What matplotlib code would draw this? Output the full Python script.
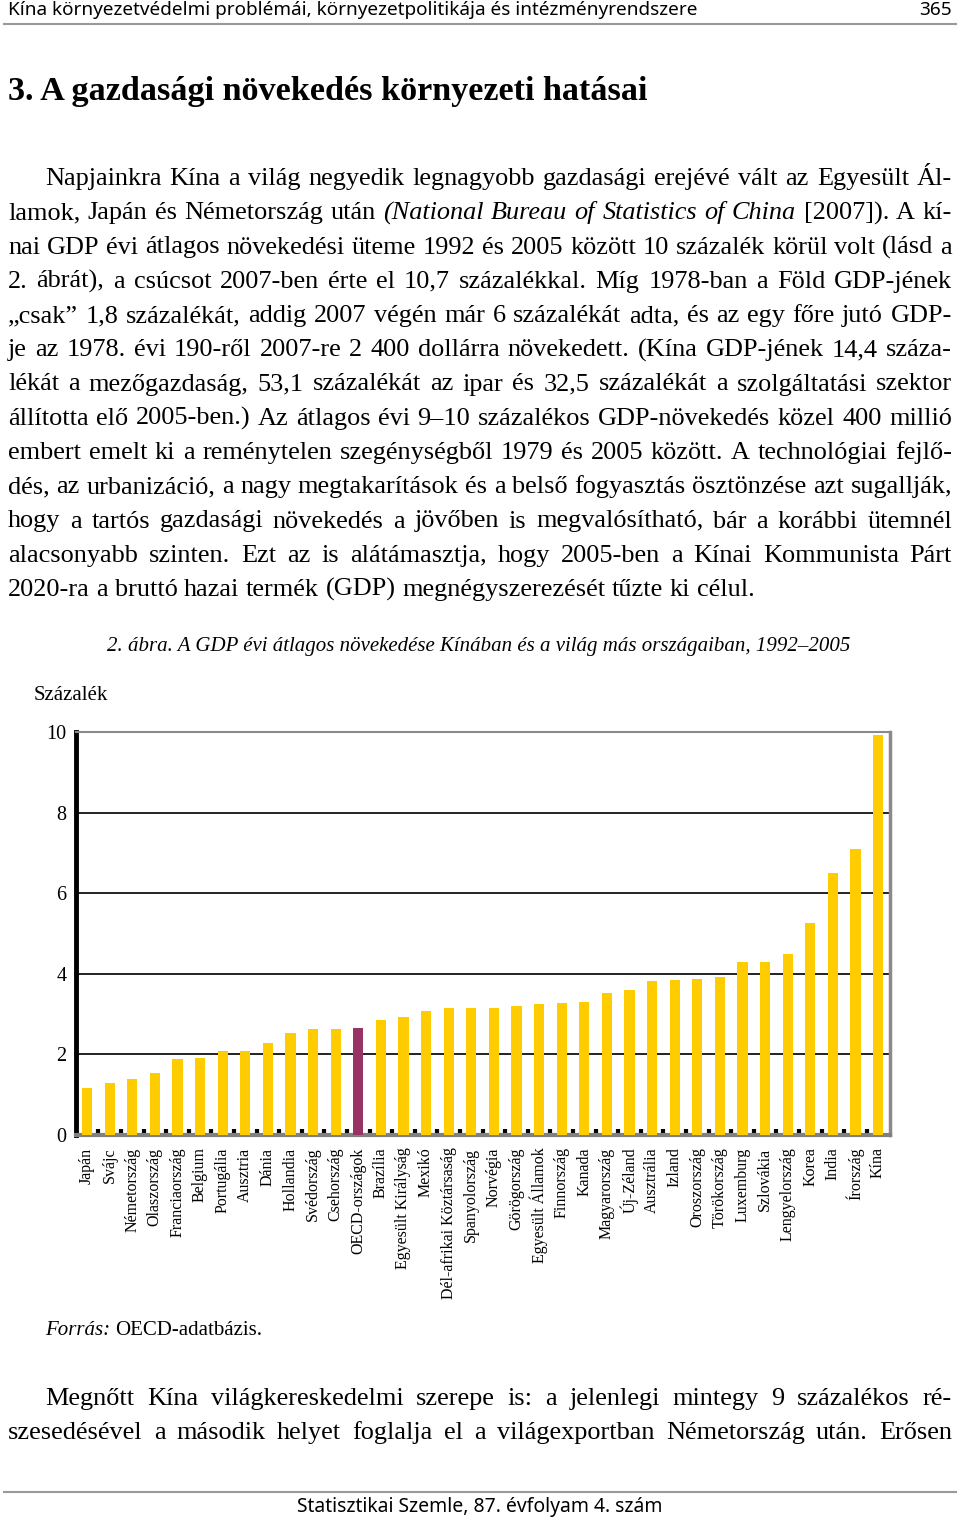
import matplotlib
matplotlib.use("Agg")
import matplotlib.pyplot as plt
import numpy as np

# chart data (percent)
countries = ["Japán", "Svájc", "Németország", "Olaszország", "Franciaország", "Belgium",
             "Portugália", "Ausztria", "Dánia", "Hollandia", "Svédország", "Csehország",
             "OECD-országok", "Brazília", "Egyesült Királyság", "Mexikó",
             "Dél-afrikai Köztársaság", "Spanyolország", "Norvégia", "Görögország",
             "Egyesült Államok", "Finnország", "Kanada", "Magyarország", "Új-Zéland",
             "Ausztrália", "Izland", "Oroszország", "Törökország", "Luxemburg",
             "Szlovákia", "Lengyelország", "Korea", "India", "Írország", "Kína"]
growth = [1.16, 1.28, 1.39, 1.53, 1.88, 1.91, 2.08, 2.08, 2.29, 2.54, 2.62, 2.62,
          2.65, 2.86, 2.93, 3.08, 3.14, 3.14, 3.14, 3.21, 3.24, 3.28, 3.31, 3.53,
          3.59, 3.81, 3.84, 3.87, 3.91, 4.30, 4.30, 4.50, 5.25, 6.49, 7.09, 9.92]
highlight = "OECD-országok"
yticks = [0, 2, 4, 6, 8, 10]

header = "Kína környezetvédelmi problémái, környezetpolitikája és intézményrendszere"
page_no = "365"
heading = "3. A gazdasági növekedés környezeti hatásai"
# words starting with _ are italic
para1 = [
    "Napjainkra Kína a világ negyedik legnagyobb gazdasági erejévé vált az Egyesült Ál-",
    "lamok, Japán és Németország után _(National _Bureau _of _Statistics _of _China [2007]). A kí-",
    "nai GDP évi átlagos növekedési üteme 1992 és 2005 között 10 százalék körül volt (lásd a",
    "2. ábrát), a csúcsot 2007-ben érte el 10,7 százalékkal. Míg 1978-ban a Föld GDP-jének",
    "„csak” 1,8 százalékát, addig 2007 végén már 6 százalékát adta, és az egy főre jutó GDP-",
    "je az 1978. évi 190-ről 2007-re 2 400 dollárra növekedett. (Kína GDP-jének 14,4 száza-",
    "lékát a mezőgazdaság, 53,1 százalékát az ipar és 32,5 százalékát a szolgáltatási szektor",
    "állította elő 2005-ben.) Az átlagos évi 9–10 százalékos GDP-növekedés közel 400 millió",
    "embert emelt ki a reménytelen szegénységből 1979 és 2005 között. A technológiai fejlő-",
    "dés, az urbanizáció, a nagy megtakarítások és a belső fogyasztás ösztönzése azt sugallják,",
    "hogy a tartós gazdasági növekedés a jövőben is megvalósítható, bár a korábbi ütemnél",
    "alacsonyabb szinten. Ezt az is alátámasztja, hogy 2005-ben a Kínai Kommunista Párt",
    "2020-ra a bruttó hazai termék (GDP) megnégyszerezését tűzte ki célul.",
]
caption = "2. ábra. A GDP évi átlagos növekedése Kínában és a világ más országaiban, 1992–2005"
ylabel = "Százalék"
source = ["_Forrás:", "OECD-adatbázis."]
para2 = [
    "Megnőtt Kína világkereskedelmi szerepe is: a jelenlegi mintegy 9 százalékos ré-",
    "szesedésével a második helyet foglalja el a világexportban Németország után. Erősen",
]
footer = "Statisztikai Szemle, 87. évfolyam 4. szám"

SERIF = "Liberation Serif"
SANS = "Noto Sans"
W, H = 960, 1521

fig = plt.figure(figsize=(9.6, 15.21), dpi=100)
fig.patch.set_facecolor("white")
r = fig.canvas.get_renderer()


def width_of(s, **kw):
    t = fig.text(0, 0, s, **kw)
    w = t.get_window_extent(r).width
    t.remove()
    return w


def fit_size(s, target, **kw):
    return 10 * target / width_of(s, fontsize=10, **kw)


def put(x, y, s, **kw):
    return fig.text(x / W, 1 - y / H, s, va="baseline", **kw)


def words_of(line):
    out = []
    for w in line.split(" "):
        if w.startswith("_"):
            out.append((w[1:], "italic"))
        else:
            out.append((w, "normal"))
    return out


def justify(y, line, x0, x1, size):
    words = words_of(line)
    widths = [width_of(w, fontsize=size, family=SERIF, style=st) for w, st in words]
    gap = (x1 - x0 - sum(widths)) / (len(words) - 1)
    x = x0
    for (w, st), wd in zip(words, widths):
        put(x, y, w, fontsize=size, family=SERIF, style=st, color="black")
        x += wd + gap


def plain(x, y, line, size):
    space = width_of("a a", fontsize=size, family=SERIF) - 2 * width_of("a", fontsize=size, family=SERIF)
    for w, st in words_of(line):
        put(x, y, w, fontsize=size, family=SERIF, style=st, color="black")
        x += width_of(w, fontsize=size, family=SERIF, style=st) + space


# page header / footer
hs = fit_size(header, 689, family=SANS, weight="light")
put(8, 15, header, fontsize=hs, family=SANS, weight="light", color="black")
put(952, 15, page_no, fontsize=hs, family=SANS, weight="light", color="black", ha="right")
fig.add_artist(plt.Line2D([4 / W, 956 / W], [1 - 24 / H] * 2, color="#999999", lw=1.5))
fig.add_artist(plt.Line2D([4 / W, 956 / W], [1 - 1492 / H] * 2, color="#999999", lw=1.5))
fs = fit_size(footer, 366, family=SANS, weight="light")
put(480, 1512, footer, fontsize=fs, family=SANS, weight="light", color="black", ha="center")

# heading
hd = fit_size(heading, 643, family=SERIF, weight="bold")
put(8, 100, heading, fontsize=hd, family=SERIF, weight="bold", color="black")

# body text
bs = fit_size(para1[-1], 747, family=SERIF)
lh = 34.25
for i, line in enumerate(para1):
    y = 185 + i * lh
    x0 = 45 if i == 0 else 8
    if i == len(para1) - 1:
        plain(x0, y, line, bs)
    else:
        justify(y, line, x0, 952, bs)
for i, line in enumerate(para2):
    justify(1405 + i * lh, line, 45 if i == 0 else 8, 952, bs)

# caption, unit label, source
cs = fit_size(caption, 746, family=SERIF, style="italic")
put(107, 651, caption, fontsize=cs, family=SERIF, style="italic", color="black")
put(34, 700, ylabel, fontsize=cs, family=SERIF, color="black")
plain(45, 1335, " ".join(source), cs)

# chart
ax = fig.add_axes([76 / W, 1 - 1135 / H, (890 - 76) / W, (1135 - 732) / H])
x = np.arange(len(countries))
colors = ["#993366" if c == highlight else "#FFCC00" for c in countries]
ax.bar(x, growth, width=0.45, color=colors, zorder=3)
ax.set_xlim(-0.49, 35.53)
ax.set_ylim(0, 10)
ax.set_yticks(yticks)
ax.set_yticklabels([str(v) for v in yticks], family=SERIF, fontsize=14.5)
ax.set_xticks(x)
ax.set_xticklabels(countries, rotation=90, family=SERIF, fontsize=11.5, va="top", ha="center")
ax.tick_params(axis="both", length=0)
ax.tick_params(axis="y", pad=7)
ax.tick_params(axis="x", pad=9)
ax.set_xticks(np.arange(len(countries) - 1) + 0.5, minor=True)
ax.tick_params(axis="x", which="minor", direction="in", length=4, width=3, color="black")
ax.set_axisbelow(True)
ax.grid(axis="y", color="#222222", lw=1.4, zorder=1)
ax.spines["left"].set_color("black")
ax.spines["left"].set_linewidth(3.5)
ax.spines["bottom"].set_color("#808080")
ax.spines["bottom"].set_linewidth(3)
ax.spines["right"].set_color("#8a8a8a")
ax.spines["right"].set_linewidth(2.5)
ax.spines["top"].set_color("#8a8a8a")
ax.spines["top"].set_linewidth(1.5)

fig.savefig("out.png", dpi=100, facecolor="white")
